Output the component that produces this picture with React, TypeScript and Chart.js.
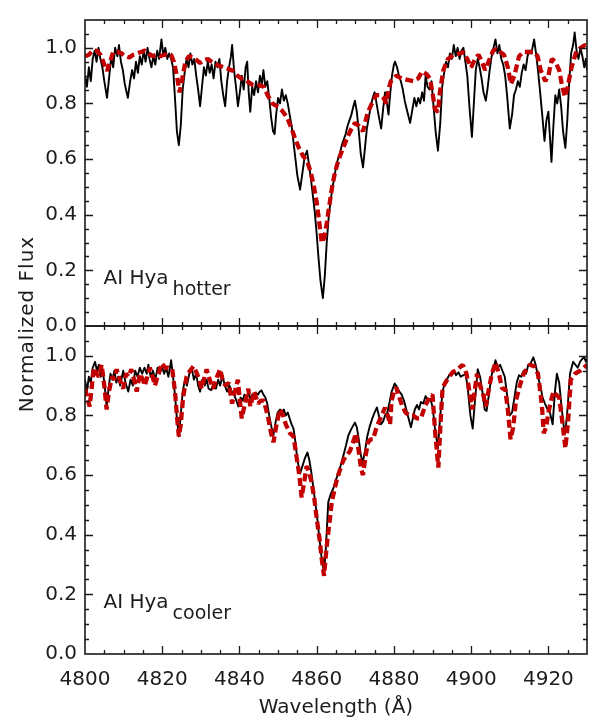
import React, { useEffect, useRef } from "react";
import { Chart, registerables } from "chart.js";

Chart.register(...registerables);

// ---------------- data ----------------
// Hotter template panel: observed spectrum (black)
const hotObsWave = [
  4800.0, 4800.5, 4801.0, 4801.5, 4802.0, 4802.5, 4803.0, 4803.5, 4804.0, 4804.5,
  4805.0, 4805.7, 4806.3, 4806.8, 4807.3, 4807.8, 4808.4, 4808.8, 4809.3, 4809.8,
  4810.3, 4811.1, 4811.7, 4812.2, 4812.7, 4813.2, 4813.7, 4814.2, 4814.7, 4815.2,
  4815.7, 4816.2, 4816.7, 4817.2, 4817.7, 4818.2, 4818.7, 4819.2, 4819.8, 4820.3,
  4820.8, 4821.3, 4821.8, 4822.3, 4822.8, 4823.3, 4823.8, 4824.3, 4824.8, 4825.3,
  4825.8, 4826.3, 4826.8, 4827.3, 4827.8, 4828.3, 4828.8, 4829.3, 4829.8, 4830.3,
  4830.8, 4831.3, 4831.8, 4832.3, 4832.8, 4833.3, 4833.8, 4834.3, 4834.8, 4835.3,
  4835.8, 4836.3, 4836.8, 4837.3, 4837.8, 4838.1, 4838.6, 4839.1, 4839.6, 4840.1,
  4840.6, 4841.1, 4841.6, 4842.0, 4842.4, 4842.8, 4843.3, 4843.8, 4844.3, 4844.8,
  4845.3, 4845.8, 4846.2, 4846.7, 4847.2, 4847.7, 4848.2, 4848.7, 4849.1, 4849.5,
  4850.0, 4850.5, 4851.0, 4851.5, 4852.0, 4852.5, 4853.0, 4853.5, 4854.0, 4854.5,
  4855.0, 4855.7, 4856.3, 4856.9, 4857.5, 4858.0, 4858.5, 4859.0, 4859.5, 4860.0,
  4860.5, 4861.0, 4861.6, 4862.1, 4862.6, 4863.1, 4863.5, 4864.0, 4864.5, 4865.0,
  4865.5, 4866.0, 4866.5, 4867.0, 4867.5, 4868.0, 4868.5, 4869.0, 4869.5, 4869.9,
  4870.4, 4870.9, 4871.4, 4872.0, 4872.5, 4873.0, 4873.5, 4874.0, 4874.5, 4875.0,
  4875.5, 4876.0, 4876.7, 4877.2, 4877.7, 4878.2, 4878.6, 4879.0, 4879.5, 4880.0,
  4880.3, 4880.8, 4881.3, 4881.8, 4882.3, 4882.8, 4883.3, 4884.2, 4884.8, 4885.3,
  4885.8, 4886.3, 4886.8, 4887.3, 4887.8, 4888.2, 4888.7, 4889.2, 4889.7, 4890.2,
  4890.8, 4891.4, 4892.0, 4892.5, 4893.0, 4893.5, 4894.0, 4894.5, 4895.0, 4895.5,
  4896.0, 4896.5, 4897.0, 4897.5, 4898.0, 4898.5, 4899.0, 4899.6, 4900.2, 4900.7,
  4901.2, 4901.7, 4902.2, 4902.7, 4903.2, 4903.8, 4904.3, 4904.8, 4905.3, 4905.8,
  4906.3, 4906.8, 4907.3, 4907.8, 4908.3, 4908.8, 4909.3, 4910.0, 4910.6, 4911.1,
  4911.6, 4912.1, 4912.6, 4913.1, 4913.6, 4914.1, 4914.6, 4915.1, 4915.6, 4916.3,
  4916.8, 4917.3, 4917.8, 4918.4, 4919.0, 4919.5, 4920.0, 4920.4, 4920.8, 4921.3,
  4921.8, 4922.3, 4922.8, 4923.3, 4923.8, 4924.4, 4924.9, 4925.4, 4925.9, 4926.4,
  4926.8, 4927.3, 4927.8, 4928.3, 4928.8, 4929.3, 4929.7, 4930.0,
];
const hotObsFlux = [
  0.90, 0.86, 0.93, 0.88, 0.96, 0.99, 0.95, 1.00, 0.96, 0.93,
  0.88, 0.82, 0.90, 0.97, 0.93, 1.00, 0.97, 1.01, 0.95, 0.92,
  0.87, 0.82, 0.88, 0.92, 0.89, 0.95, 0.91, 0.97, 0.94, 0.99,
  0.95, 1.00, 0.96, 0.93, 0.97, 0.94, 0.99, 0.96, 1.03, 0.97,
  1.00, 0.96, 0.98, 0.96, 0.93, 0.82, 0.70, 0.65, 0.72, 0.85,
  0.91, 0.96, 0.93, 0.98, 0.94, 0.96, 0.90, 0.85, 0.79, 0.86,
  0.93, 0.90, 0.95, 0.91, 0.94, 0.89, 0.95, 0.93, 0.96, 0.88,
  0.83, 0.79, 0.88, 0.93, 0.97, 1.01, 0.92, 0.86, 0.79, 0.84,
  0.90, 0.85, 0.93, 0.95, 0.84, 0.77, 0.86, 0.83, 0.88, 0.84,
  0.90, 0.87, 0.92, 0.86, 0.88, 0.82, 0.75, 0.70, 0.69, 0.76,
  0.82, 0.80, 0.85, 0.81, 0.83, 0.80, 0.76, 0.72, 0.66, 0.60,
  0.54, 0.49, 0.55, 0.61, 0.63, 0.58, 0.53, 0.47, 0.41, 0.33,
  0.24, 0.16, 0.10, 0.18, 0.30, 0.39, 0.44, 0.49, 0.53, 0.57,
  0.60, 0.62, 0.65, 0.67, 0.69, 0.72, 0.74, 0.76, 0.79, 0.81,
  0.77, 0.70, 0.62, 0.57, 0.64, 0.71, 0.75, 0.79, 0.82, 0.84,
  0.80, 0.76, 0.71, 0.78, 0.84, 0.80, 0.76, 0.83, 0.90, 0.94,
  0.95, 0.93, 0.90, 0.88, 0.85, 0.81, 0.78, 0.73, 0.78, 0.82,
  0.79, 0.82, 0.80, 0.84, 0.81, 0.90, 0.86, 0.85, 0.88, 0.80,
  0.70, 0.63, 0.73, 0.86, 0.91, 0.95, 0.93, 0.98, 0.96, 1.01,
  0.97, 1.00, 0.96, 0.99, 1.00, 0.95, 0.90, 0.78, 0.68, 0.80,
  0.92, 0.96, 0.93, 0.89, 0.84, 0.81, 0.86, 0.92, 0.97, 1.00,
  1.03, 0.98, 1.01, 0.96, 0.94, 0.90, 0.83, 0.71, 0.76, 0.83,
  0.85, 0.88, 0.86, 0.91, 0.94, 0.92, 0.97, 0.99, 0.98, 1.03,
  0.98, 0.92, 0.85, 0.76, 0.665, 0.74, 0.77, 0.68, 0.59, 0.72,
  0.83, 0.80, 0.85, 0.79, 0.70, 0.64, 0.74, 0.88, 0.98, 1.01,
  1.055, 0.99, 0.96, 1.00, 0.97, 0.93, 0.96, 0.92,
];

// Hotter template panel: model spectrum (red dashed)
const hotModelWave = [
  4800.0, 4801.0, 4802.0, 4803.0, 4804.0, 4805.0, 4805.7, 4806.5, 4807.3, 4808.5,
  4809.5, 4810.5, 4811.5, 4812.5, 4813.5, 4814.5, 4815.5, 4816.5, 4817.5, 4818.5,
  4819.5, 4820.5, 4821.5, 4822.3, 4823.0, 4823.8, 4824.5, 4825.2, 4826.0, 4826.9,
  4828.0, 4829.0, 4829.8, 4830.8, 4831.8, 4832.8, 4834.0, 4835.0, 4836.0, 4837.0,
  4838.4, 4839.5, 4840.5, 4841.5, 4842.5, 4843.5, 4845.0, 4846.3, 4847.3, 4848.5,
  4849.7, 4851.0, 4852.3, 4853.5, 4854.5, 4855.4, 4856.5, 4857.5, 4858.5, 4859.3,
  4860.0, 4860.6, 4861.3, 4862.0, 4862.6, 4863.4, 4864.0, 4864.7, 4865.3, 4866.0,
  4867.0, 4867.7, 4869.0, 4869.9, 4870.9, 4872.0, 4872.7, 4873.3, 4874.3, 4875.4,
  4876.5, 4877.3, 4878.0, 4878.6, 4879.2, 4880.6, 4882.0, 4883.5, 4885.0, 4886.3,
  4887.3, 4888.5, 4889.3, 4890.0, 4890.6, 4891.4, 4892.0, 4892.8, 4894.0, 4895.5,
  4897.1, 4898.0, 4899.0, 4900.0, 4901.0, 4901.9, 4902.8, 4903.6, 4904.5, 4905.7,
  4906.5, 4907.5, 4908.5, 4909.5, 4910.3, 4911.2, 4912.4, 4913.5, 4915.0, 4916.3,
  4917.2, 4918.0, 4919.2, 4920.0, 4920.9, 4921.8, 4922.8, 4923.6, 4924.3, 4925.0,
  4926.0, 4927.3, 4928.4, 4929.5, 4930.0,
];
const hotModelFlux = [
  0.97, 0.975, 0.99, 0.99, 0.975, 0.94, 0.917, 0.95, 0.985, 0.985,
  0.98, 0.97, 0.965, 0.975, 0.98, 0.985, 0.99, 0.98, 0.97, 0.975,
  0.97, 0.975, 0.975, 0.975, 0.95, 0.90, 0.84, 0.89, 0.95, 0.97,
  0.965, 0.955, 0.945, 0.955, 0.96, 0.95, 0.94, 0.935, 0.93, 0.925,
  0.917, 0.90, 0.89, 0.885, 0.875, 0.866, 0.866, 0.86, 0.83, 0.80,
  0.79, 0.775, 0.75, 0.71, 0.67, 0.64, 0.61, 0.595, 0.55, 0.50,
  0.445, 0.38, 0.30, 0.32, 0.37, 0.445, 0.50, 0.55, 0.58, 0.61,
  0.645, 0.67, 0.71, 0.73, 0.72, 0.70, 0.74, 0.77, 0.80, 0.83,
  0.83, 0.82, 0.80, 0.85, 0.88, 0.90, 0.89, 0.885, 0.88, 0.89,
  0.915, 0.905, 0.89, 0.84, 0.78, 0.77, 0.85, 0.92, 0.96, 0.975,
  0.98, 0.985, 0.96, 0.93, 0.96, 0.975, 0.95, 0.92, 0.95, 0.99,
  0.995, 0.985, 0.975, 0.93, 0.87, 0.90, 0.97, 0.985, 0.985, 0.985,
  0.97, 0.92, 0.88, 0.90, 0.96, 0.95, 0.92, 0.86, 0.824, 0.86,
  0.93, 0.99, 1.0, 1.01, 1.01,
];

// Cooler template panel: observed spectrum (black)
const coolObsWave = [
  4800.0, 4800.5, 4801.0, 4801.5, 4802.0, 4802.6, 4803.1, 4803.6, 4804.1, 4804.6,
  4805.1, 4805.6, 4806.1, 4806.6, 4807.1, 4807.6, 4808.1, 4808.6, 4809.1, 4809.9,
  4810.5, 4811.2, 4811.8, 4812.4, 4813.0, 4813.6, 4814.2, 4814.8, 4815.4, 4816.0,
  4816.4, 4817.0, 4817.6, 4818.2, 4818.8, 4819.4, 4819.9, 4820.5, 4821.0, 4821.6,
  4822.3, 4822.8, 4823.3, 4823.8, 4824.3, 4824.8, 4825.3, 4825.9, 4826.4, 4827.0,
  4827.6, 4828.2, 4828.8, 4829.3, 4829.8, 4830.4, 4831.0, 4831.5, 4832.0, 4832.7,
  4833.3, 4833.9, 4834.5, 4835.0, 4835.6, 4836.2, 4836.8, 4837.4, 4838.0, 4838.6,
  4839.2, 4839.7, 4840.3, 4840.8, 4841.3, 4841.8, 4842.3, 4842.8, 4843.3, 4843.8,
  4844.3, 4844.8, 4845.3, 4845.7, 4846.2, 4846.7, 4847.2, 4847.7, 4848.3, 4848.8,
  4849.4, 4849.9, 4850.5, 4851.0, 4851.5, 4852.0, 4852.5, 4853.0, 4853.5, 4854.0,
  4854.5, 4855.0, 4855.7, 4856.3, 4856.9, 4857.6, 4858.1, 4858.6, 4859.1, 4859.6,
  4860.1, 4860.6, 4861.2, 4861.9, 4862.4, 4863.0, 4863.6, 4864.3, 4865.0, 4865.7,
  4866.4, 4867.0, 4867.6, 4868.2, 4868.8, 4869.4, 4869.9, 4870.4, 4870.9, 4871.4,
  4871.9, 4872.5, 4873.1, 4873.8, 4874.4, 4875.0, 4875.6, 4876.1, 4876.6, 4877.2,
  4877.7, 4878.3, 4878.8, 4879.4, 4880.2, 4880.8, 4881.4, 4882.0, 4882.6, 4883.2,
  4883.8, 4884.4, 4884.9, 4885.4, 4886.0, 4886.5, 4887.0, 4887.6, 4888.2, 4888.8,
  4889.4, 4890.0, 4890.6, 4891.4, 4892.0, 4892.6, 4893.1, 4893.7, 4894.3, 4894.9,
  4895.5, 4896.1, 4896.7, 4897.3, 4898.0, 4898.6, 4899.2, 4899.8, 4900.4, 4901.0,
  4901.7, 4902.3, 4902.9, 4903.5, 4904.0, 4904.6, 4905.2, 4905.8, 4906.3, 4906.9,
  4907.5, 4908.1, 4908.7, 4909.3, 4910.0, 4910.6, 4911.2, 4911.8, 4912.4, 4913.0,
  4913.6, 4914.2, 4914.8, 4915.4, 4916.1, 4916.7, 4917.3, 4917.9, 4918.5, 4919.1,
  4919.8, 4920.4, 4921.1, 4921.7, 4922.2, 4922.8, 4923.4, 4924.0, 4924.4, 4925.0,
  4925.6, 4926.4, 4927.0, 4927.6, 4928.2, 4928.8, 4929.3, 4929.7, 4930.0,
];
const coolObsFlux = [
  0.92, 0.88, 0.93, 0.91, 0.96, 0.98, 0.95, 0.97, 0.93, 0.95,
  0.90, 0.83, 0.89, 0.94, 0.92, 0.95, 0.91, 0.93, 0.90, 0.95,
  0.91, 0.88, 0.92, 0.90, 0.95, 0.93, 0.96, 0.94, 0.96, 0.94,
  0.97, 0.93, 0.95, 0.92, 0.96, 0.94, 0.965, 0.94, 0.96, 0.93,
  0.985, 0.93, 0.87, 0.79, 0.73, 0.80, 0.88, 0.92, 0.90, 0.94,
  0.96, 0.92, 0.94, 0.90, 0.88, 0.92, 0.90, 0.92, 0.89, 0.885,
  0.91, 0.89, 0.92, 0.90, 0.934, 0.90, 0.88, 0.90, 0.88, 0.87,
  0.85, 0.83, 0.86, 0.85, 0.87, 0.86, 0.875, 0.857, 0.87, 0.86,
  0.875, 0.87, 0.88, 0.884, 0.87, 0.86, 0.84, 0.80, 0.76, 0.733,
  0.78, 0.81, 0.82, 0.81, 0.82, 0.80, 0.81, 0.79, 0.77, 0.756,
  0.71, 0.65, 0.605, 0.63, 0.655, 0.676, 0.65, 0.61, 0.56, 0.51,
  0.46, 0.40, 0.33, 0.273, 0.36, 0.51, 0.535, 0.555, 0.585, 0.61,
  0.64, 0.67, 0.70, 0.733, 0.75, 0.765, 0.776, 0.76, 0.72, 0.67,
  0.64, 0.68, 0.73, 0.766, 0.79, 0.81, 0.827, 0.80, 0.77, 0.78,
  0.80, 0.81, 0.84, 0.88, 0.907, 0.895, 0.88, 0.87, 0.85, 0.82,
  0.79, 0.76, 0.79, 0.82, 0.835, 0.82, 0.845, 0.84, 0.865, 0.85,
  0.855, 0.83, 0.76, 0.69, 0.80, 0.88, 0.907, 0.92, 0.935, 0.94,
  0.95, 0.935, 0.945, 0.93, 0.935, 0.94, 0.88, 0.80, 0.756, 0.85,
  0.955, 0.93, 0.88, 0.82, 0.815, 0.87, 0.93, 0.96, 0.985, 0.96,
  0.97, 0.95, 0.93, 0.87, 0.80, 0.81, 0.86, 0.91, 0.935, 0.93,
  0.95, 0.94, 0.97, 0.975, 0.995, 0.97, 0.93, 0.90, 0.86, 0.84,
  0.82, 0.81, 0.77, 0.88, 0.94, 0.91, 0.83, 0.76, 0.743, 0.83,
  0.94, 0.98, 0.97, 0.96, 0.98, 0.99, 0.995, 0.98, 0.99,
];

// Cooler template panel: model spectrum (red dashed)
const coolModelWave = [
  4800.0, 4800.6, 4801.2, 4801.8, 4802.3, 4803.0, 4803.6, 4804.3, 4805.0, 4805.6,
  4806.2, 4807.0, 4807.6, 4808.2, 4809.0, 4809.9, 4810.6, 4811.3, 4812.0, 4812.7,
  4813.4, 4814.2, 4815.0, 4815.5, 4816.8, 4817.5, 4818.1, 4819.0, 4819.9, 4820.8,
  4821.6, 4822.6, 4823.3, 4823.8, 4824.3, 4824.8, 4825.4, 4826.3, 4827.2, 4828.1,
  4829.0, 4829.6, 4830.2, 4831.0, 4831.5, 4832.3, 4833.2, 4834.2, 4835.0, 4835.8,
  4836.5, 4837.2, 4838.1, 4839.0, 4839.6, 4840.1, 4840.6, 4841.4, 4842.3, 4842.8,
  4843.8, 4844.8, 4845.6, 4846.3, 4847.3, 4848.2, 4848.8, 4849.6, 4850.5, 4851.3,
  4852.0, 4853.1, 4854.0, 4854.8, 4855.5, 4856.1, 4856.8, 4857.4, 4858.0, 4858.7,
  4859.4, 4860.0, 4860.8, 4861.3, 4861.9, 4862.3, 4862.8, 4863.4, 4863.9, 4864.6,
  4865.3, 4866.1, 4866.9, 4867.7, 4868.6, 4869.4, 4870.2, 4871.0, 4871.5, 4872.0,
  4872.6, 4873.3, 4874.0, 4874.6, 4875.5, 4876.5, 4877.7, 4878.4, 4879.0, 4879.4,
  4880.0, 4880.6, 4881.4, 4882.2, 4883.0, 4884.0, 4885.0, 4886.0, 4887.0, 4888.0,
  4889.2, 4890.0, 4890.7, 4891.5, 4892.1, 4892.6, 4893.8, 4895.2, 4896.5, 4897.8,
  4898.8, 4899.6, 4900.3, 4900.9, 4901.5, 4902.3, 4903.0, 4903.8, 4904.6, 4905.3,
  4906.3, 4907.2, 4908.0, 4908.8, 4909.5, 4910.2, 4910.9, 4911.6, 4912.6, 4913.6,
  4915.2, 4916.3, 4917.3, 4918.0, 4918.4, 4918.8, 4919.4, 4920.0, 4920.7, 4921.3,
  4922.0, 4922.8, 4923.6, 4924.4, 4925.1, 4925.8, 4926.9, 4928.3, 4929.2, 4930.0,
];
const coolModelFlux = [
  0.89, 0.86, 0.83, 0.90, 0.96, 0.94, 0.93, 0.97, 0.90, 0.82,
  0.88, 0.93, 0.92, 0.955, 0.92, 0.89, 0.94, 0.93, 0.955, 0.92,
  0.88, 0.94, 0.92, 0.90, 0.96, 0.93, 0.90, 0.94, 0.975, 0.96,
  0.96, 0.955, 0.88, 0.80, 0.73, 0.77, 0.86, 0.93, 0.95, 0.965,
  0.94, 0.92, 0.89, 0.93, 0.955, 0.92, 0.89, 0.93, 0.955, 0.91,
  0.90, 0.91, 0.84, 0.89, 0.92, 0.85, 0.79, 0.84, 0.89, 0.83,
  0.88, 0.84, 0.85, 0.85, 0.80, 0.74, 0.71, 0.77, 0.82, 0.80,
  0.77, 0.74, 0.73, 0.66, 0.60, 0.525, 0.58, 0.63, 0.61, 0.575,
  0.52, 0.455, 0.38, 0.32, 0.262, 0.32, 0.387, 0.45, 0.51, 0.55,
  0.59, 0.62, 0.65, 0.665, 0.68, 0.71, 0.74, 0.67, 0.62, 0.60,
  0.66, 0.71, 0.72, 0.72, 0.76, 0.79, 0.826, 0.80, 0.77, 0.85,
  0.88, 0.894, 0.86, 0.83, 0.81, 0.80, 0.80, 0.79, 0.79, 0.83,
  0.86, 0.87, 0.74, 0.625, 0.78, 0.894, 0.92, 0.945, 0.955, 0.97,
  0.94, 0.877, 0.82, 0.88, 0.94, 0.90, 0.877, 0.83, 0.89, 0.935,
  0.978, 0.94, 0.89, 0.89, 0.82, 0.72, 0.76, 0.85, 0.90, 0.94,
  0.97, 0.965, 0.94, 0.87, 0.82, 0.74, 0.76, 0.81, 0.85, 0.88,
  0.87, 0.86, 0.78, 0.69, 0.78, 0.92, 0.94, 0.95, 0.96, 0.97,
];

// axis settings
const X_MIN = 4800;
const X_MAX = 4930;
const X_MAJOR = 20;
const X_MINOR = 5;
const Y_MIN = 0;
const Y_MAX = 1.1;
const Y_MAJOR = 0.2;
const Y_MINOR = 0.05;

const STAR = "AI Hya";
const Y_TITLE = "Normalized Flux";
const X_TITLE = "Wavelength (Å)";

// ---------------- styling ----------------
const W = 598;
const H = 724;
const FONT = "'DejaVu Sans', 'Liberation Sans', sans-serif";
const TEXT = "#1c1c1c";
const AXIS = "#1a1a1a";
const RED = "#c20000";

function toPoints(xs: number[], ys: number[]) {
  const n = Math.min(xs.length, ys.length);
  const out: { x: number; y: number }[] = [];
  for (let i = 0; i < n; i++) out.push({ x: xs[i], y: ys[i] });
  return out;
}

const framePlugin = {
  id: "frame",
  afterDraw(chart: any, _args: any, opts: any) {
    const { ctx, chartArea: a, scales } = chart;
    const xs = scales.x;
    const ys = scales.y;
    ctx.save();
    ctx.strokeStyle = AXIS;
    ctx.lineWidth = 1.6;
    ctx.strokeRect(a.left, a.top, a.right - a.left, a.bottom - a.top);
    ctx.beginPath();
    ctx.lineWidth = 1.3;
    const nx = Math.round((X_MAX - X_MIN) / X_MINOR);
    for (let i = 1; i < nx; i++) {
      const v = X_MIN + i * X_MINOR;
      const major = (i * X_MINOR) % X_MAJOR === 0;
      const len = major ? 8 : 4;
      const px = Math.round(xs.getPixelForValue(v)) + 0.5;
      ctx.moveTo(px, a.bottom);
      ctx.lineTo(px, a.bottom - len);
      ctx.moveTo(px, a.top);
      ctx.lineTo(px, a.top + len);
    }
    const ny = Math.round((Y_MAX - Y_MIN) / Y_MINOR);
    const ratio = Math.round(Y_MAJOR / Y_MINOR);
    for (let i = 1; i < ny; i++) {
      const v = Y_MIN + i * Y_MINOR;
      const major = i % ratio === 0;
      const len = major ? 8 : 4;
      const py = Math.round(ys.getPixelForValue(v)) + 0.5;
      ctx.moveTo(a.left, py);
      ctx.lineTo(a.left + len, py);
      ctx.moveTo(a.right, py);
      ctx.lineTo(a.right - len, py);
    }
    ctx.stroke();

    // panel label with subscript
    ctx.fillStyle = TEXT;
    ctx.textAlign = "left";
    ctx.textBaseline = "alphabetic";
    ctx.font = `20px ${FONT}`;
    const tx = xs.getPixelForValue(opts.labelX);
    const ty = ys.getPixelForValue(opts.labelY);
    ctx.fillText(STAR, tx, ty);
    const w = ctx.measureText(STAR).width;
    ctx.font = `19px ${FONT}`;
    ctx.fillText(opts.sub, tx + w + 4, ty + 11);

    if (opts.yTitle) {
      ctx.save();
      ctx.translate(33, 324);
      ctx.rotate(-Math.PI / 2);
      ctx.textAlign = "center";
      ctx.font = `20px ${FONT}`;
      try {
        (ctx as any).letterSpacing = "1px";
      } catch (e) {}
      ctx.fillText(Y_TITLE, 0, 0);
      ctx.restore();
    }
    ctx.restore();
  },
};

function makeConfig(p: {
  obsW: number[];
  obsF: number[];
  modW: number[];
  modF: number[];
  sub: string;
  labelY: number;
  padTop: number;
  padBottom: number;
  showX: boolean;
  yTitle: boolean;
}): any {
  return {
    type: "line",
    data: {
      datasets: [
        {
          label: "model",
          data: toPoints(p.modW, p.modF),
          borderColor: RED,
          borderWidth: 4.3,
          borderDash: [8, 4],
          borderJoinStyle: "bevel",
          borderCapStyle: "butt",
          pointRadius: 0,
          tension: 0,
          fill: false,
        },
        {
          label: "observed",
          data: toPoints(p.obsW, p.obsF),
          borderColor: "#000000",
          borderWidth: 1.9,
          borderJoinStyle: "round",
          pointRadius: 0,
          tension: 0,
          fill: false,
        },
      ],
    },
    options: {
      responsive: false,
      animation: false,
      devicePixelRatio: 1,
      events: [],
      layout: {
        padding: { top: p.padTop, right: 11, bottom: p.padBottom, left: 0 },
      },
      plugins: {
        legend: { display: false },
        tooltip: { enabled: false },
        frame: { labelX: 4804.8, labelY: p.labelY, sub: p.sub, yTitle: p.yTitle },
      },
      scales: {
        x: {
          type: "linear",
          min: X_MIN,
          max: X_MAX,
          display: p.showX,
          grid: { display: false, drawTicks: false },
          border: { display: false },
          ticks: {
            stepSize: X_MAJOR,
            includeBounds: false,
            autoSkip: false,
            maxRotation: 0,
            padding: 14,
            color: TEXT,
            font: { family: FONT, size: 20 },
            callback: (v: any) => String(Math.round(Number(v))),
          },
          title: {
            display: p.showX,
            text: X_TITLE,
            color: TEXT,
            font: { family: FONT, size: 20 },
            padding: { top: 0, bottom: 4 },
          },
          afterFit: (s: any) => {
            if (p.showX) s.height = 70;
          },
        },
        y: {
          type: "linear",
          min: Y_MIN,
          max: Y_MAX,
          position: "left",
          grid: { display: false, drawTicks: false },
          border: { display: false },
          ticks: {
            stepSize: Y_MAJOR,
            includeBounds: false,
            padding: 8,
            color: TEXT,
            font: { family: FONT, size: 20 },
            callback: (v: any) => Number(v).toFixed(1),
          },
          afterBuildTicks: (s: any) => {
            s.ticks = s.ticks.filter((t: any) => t.value <= 1.0001);
          },
          afterFit: (s: any) => {
            s.width = 85;
          },
        },
      },
    },
    plugins: [framePlugin],
  };
}

export default function App() {
  const topRef = useRef<HTMLCanvasElement>(null);
  const botRef = useRef<HTMLCanvasElement>(null);

  useEffect(() => {
    const top = new Chart(
      topRef.current as HTMLCanvasElement,
      makeConfig({
        obsW: hotObsWave,
        obsF: hotObsFlux,
        modW: hotModelWave,
        modF: hotModelFlux,
        sub: "hotter",
        labelY: 0.15,
        padTop: 6,
        padBottom: H - 326,
        showX: false,
        yTitle: false,
      })
    );
    const bot = new Chart(
      botRef.current as HTMLCanvasElement,
      makeConfig({
        obsW: coolObsWave,
        obsF: coolObsFlux,
        modW: coolModelWave,
        modF: coolModelFlux,
        sub: "cooler",
        labelY: 0.155,
        padTop: 326,
        padBottom: 0,
        showX: true,
        yTitle: true,
      })
    );
    return () => {
      top.destroy();
      bot.destroy();
    };
  }, []);

  return (
    <div
      style={{
        position: "fixed",
        left: 0,
        top: 0,
        width: W,
        height: H,
        background: "#ffffff",
        overflow: "hidden",
      }}
    >
      <canvas
        ref={topRef}
        width={W}
        height={H}
        style={{ position: "absolute", left: 0, top: 0, width: W, height: H }}
      />
      <canvas
        ref={botRef}
        width={W}
        height={H}
        style={{ position: "absolute", left: 0, top: 0, width: W, height: H }}
      />
    </div>
  );
}
